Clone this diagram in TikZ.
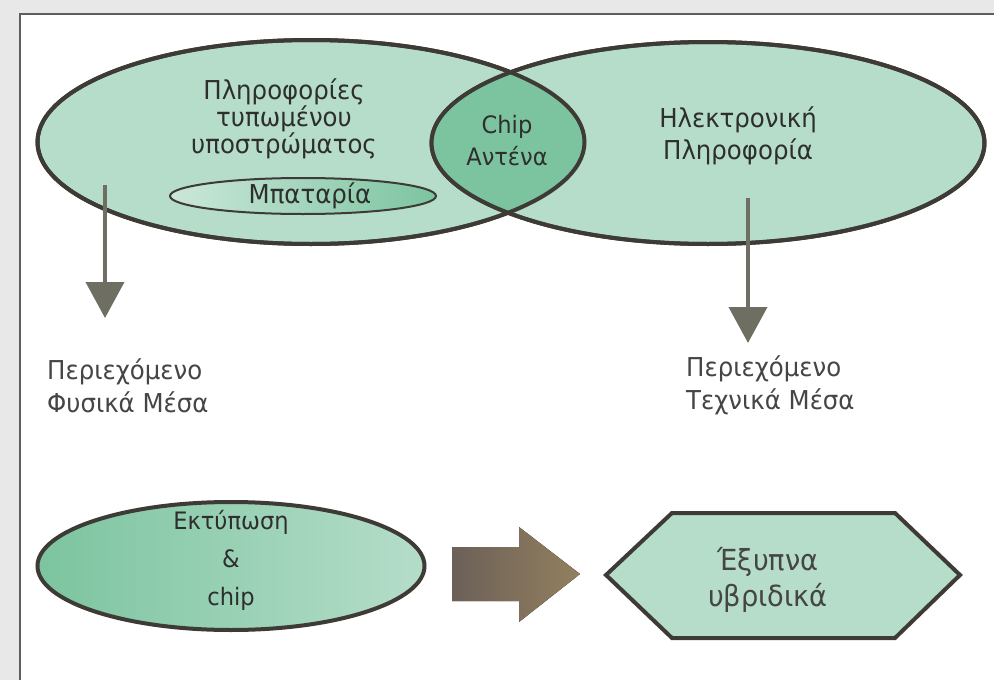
\documentclass[tikz,border=0pt]{standalone}
\usepackage{fontspec}
\setmainfont{DejaVu Sans}[FakeStretch=0.94]
\usetikzlibrary{arrows.meta,shapes.geometric}
\definecolor{lgreen}{HTML}{B5DDC9}
\definecolor{mgreen}{HTML}{7CC4A0}
\definecolor{outl}{HTML}{3E3A35}
\definecolor{arrg}{HTML}{6E6E62}
\definecolor{frameg}{HTML}{5E5E5E}
\definecolor{bggray}{HTML}{E8E8E8}
\definecolor{txt}{HTML}{2E2E2E}
\definecolor{txtg}{HTML}{454545}
\definecolor{bra}{HTML}{6C6058}
\definecolor{brb}{HTML}{93805F}
\tikzset{
  venn/.style={ellipse, draw=outl, line width=4pt, fill=lgreen, inner sep=0pt},
  lbl/.style={font=\fontsize{26}{32}\selectfont, text=txt, align=center, inner sep=0pt},
  lbll/.style={font=\fontsize{26}{33}\selectfont, text=txtg, align=left, inner sep=0pt, anchor=north west},
  downarr/.style={draw=arrg, line width=4pt, -{Triangle[width=38pt,length=36pt]}, color=arrg},
}
\begin{document}
\begin{tikzpicture}[x=1pt,y=-1pt]
\useasboundingbox (0,0) rectangle (994,680);
% background and frame
\fill[bggray] (0,0) rectangle (994,680);
\fill[white] (20,14) rectangle (994,680);
\draw[frameg, line width=2pt] (20,680) -- (20,14) -- (994,14);
% Venn ellipses
\node[venn, minimum width=547pt, minimum height=204pt] (le) at (311,142) {};
\node[venn, minimum width=553pt, minimum height=202pt] (re) at (708,143) {};
% lens
\begin{scope}
  \clip (311,142) ellipse [x radius=273.5pt, y radius=102pt];
  \fill[mgreen] (708,143) ellipse [x radius=276.5pt, y radius=101pt];
\end{scope}
\draw[outl, line width=4pt] (311,142) ellipse [x radius=273.5pt, y radius=102pt];
\draw[outl, line width=4pt] (708,143) ellipse [x radius=276.5pt, y radius=101pt];
% battery ellipse
\node[ellipse, draw=outl, line width=2pt, left color=lgreen!70!white, right color=mgreen, minimum width=266pt, minimum height=36pt, inner sep=0pt] (bat) at (303,196) {};
\node[lbl] (batt) at (310,196) {Μπαταρία};
% texts
\node[lbl, font=\fontsize{26}{27}\selectfont] (t1) at (284,119) {Πληροφορίες\\τυπωμένου\\υποστρώματος};
\node[lbl, font=\fontsize{24}{32}\selectfont] (t2) at (507,141) {Chip\\Αντένα};
\node[lbl] (t3) at (738,136) {Ηλεκτρονική\\Πληροφορία};
% arrows
\coordinate (a1s) at (105,185);
\coordinate (a1e) at (105,318);
\coordinate (a2s) at (748,198);
\coordinate (a2e) at (748,343);
\draw[downarr] (a1s) -- (a1e);
\draw[downarr] (a2s) -- (a2e);
\node[lbll] (p1) at (47,359) {Περιεχόμενο\\Φυσικά Μέσα};
\node[lbll] (p2) at (686,356) {Περιεχόμενο\\Τεχνικά Μέσα};
% bottom row
\node[ellipse, draw=outl, line width=4pt, left color=mgreen, right color=lgreen, minimum width=387pt, minimum height=128pt, inner sep=0pt] (ec) at (231,566) {};
\node[font=\fontsize{24}{38}\selectfont, text=txt, align=center, inner sep=0pt] (ect) at (231,560) {Εκτύπωση\\\&\\chip};
\fill[left color=bra, right color=brb] (452,547) -- (519,547) -- (519,527) -- (580,574) -- (519,622) -- (519,601) -- (452,601) -- cycle;
\draw[outl, line width=4pt, fill=lgreen, line join=miter] (606,575) -- (672,513) -- (895,513) -- (960,575) -- (895,638) -- (672,638) -- cycle;
\node[font=\fontsize{29}{36}\selectfont, text=txtg, align=center, inner sep=0pt] (hx) at (768,580) {Έξυπνα\\υβριδικά};
\end{tikzpicture}
\end{document}
